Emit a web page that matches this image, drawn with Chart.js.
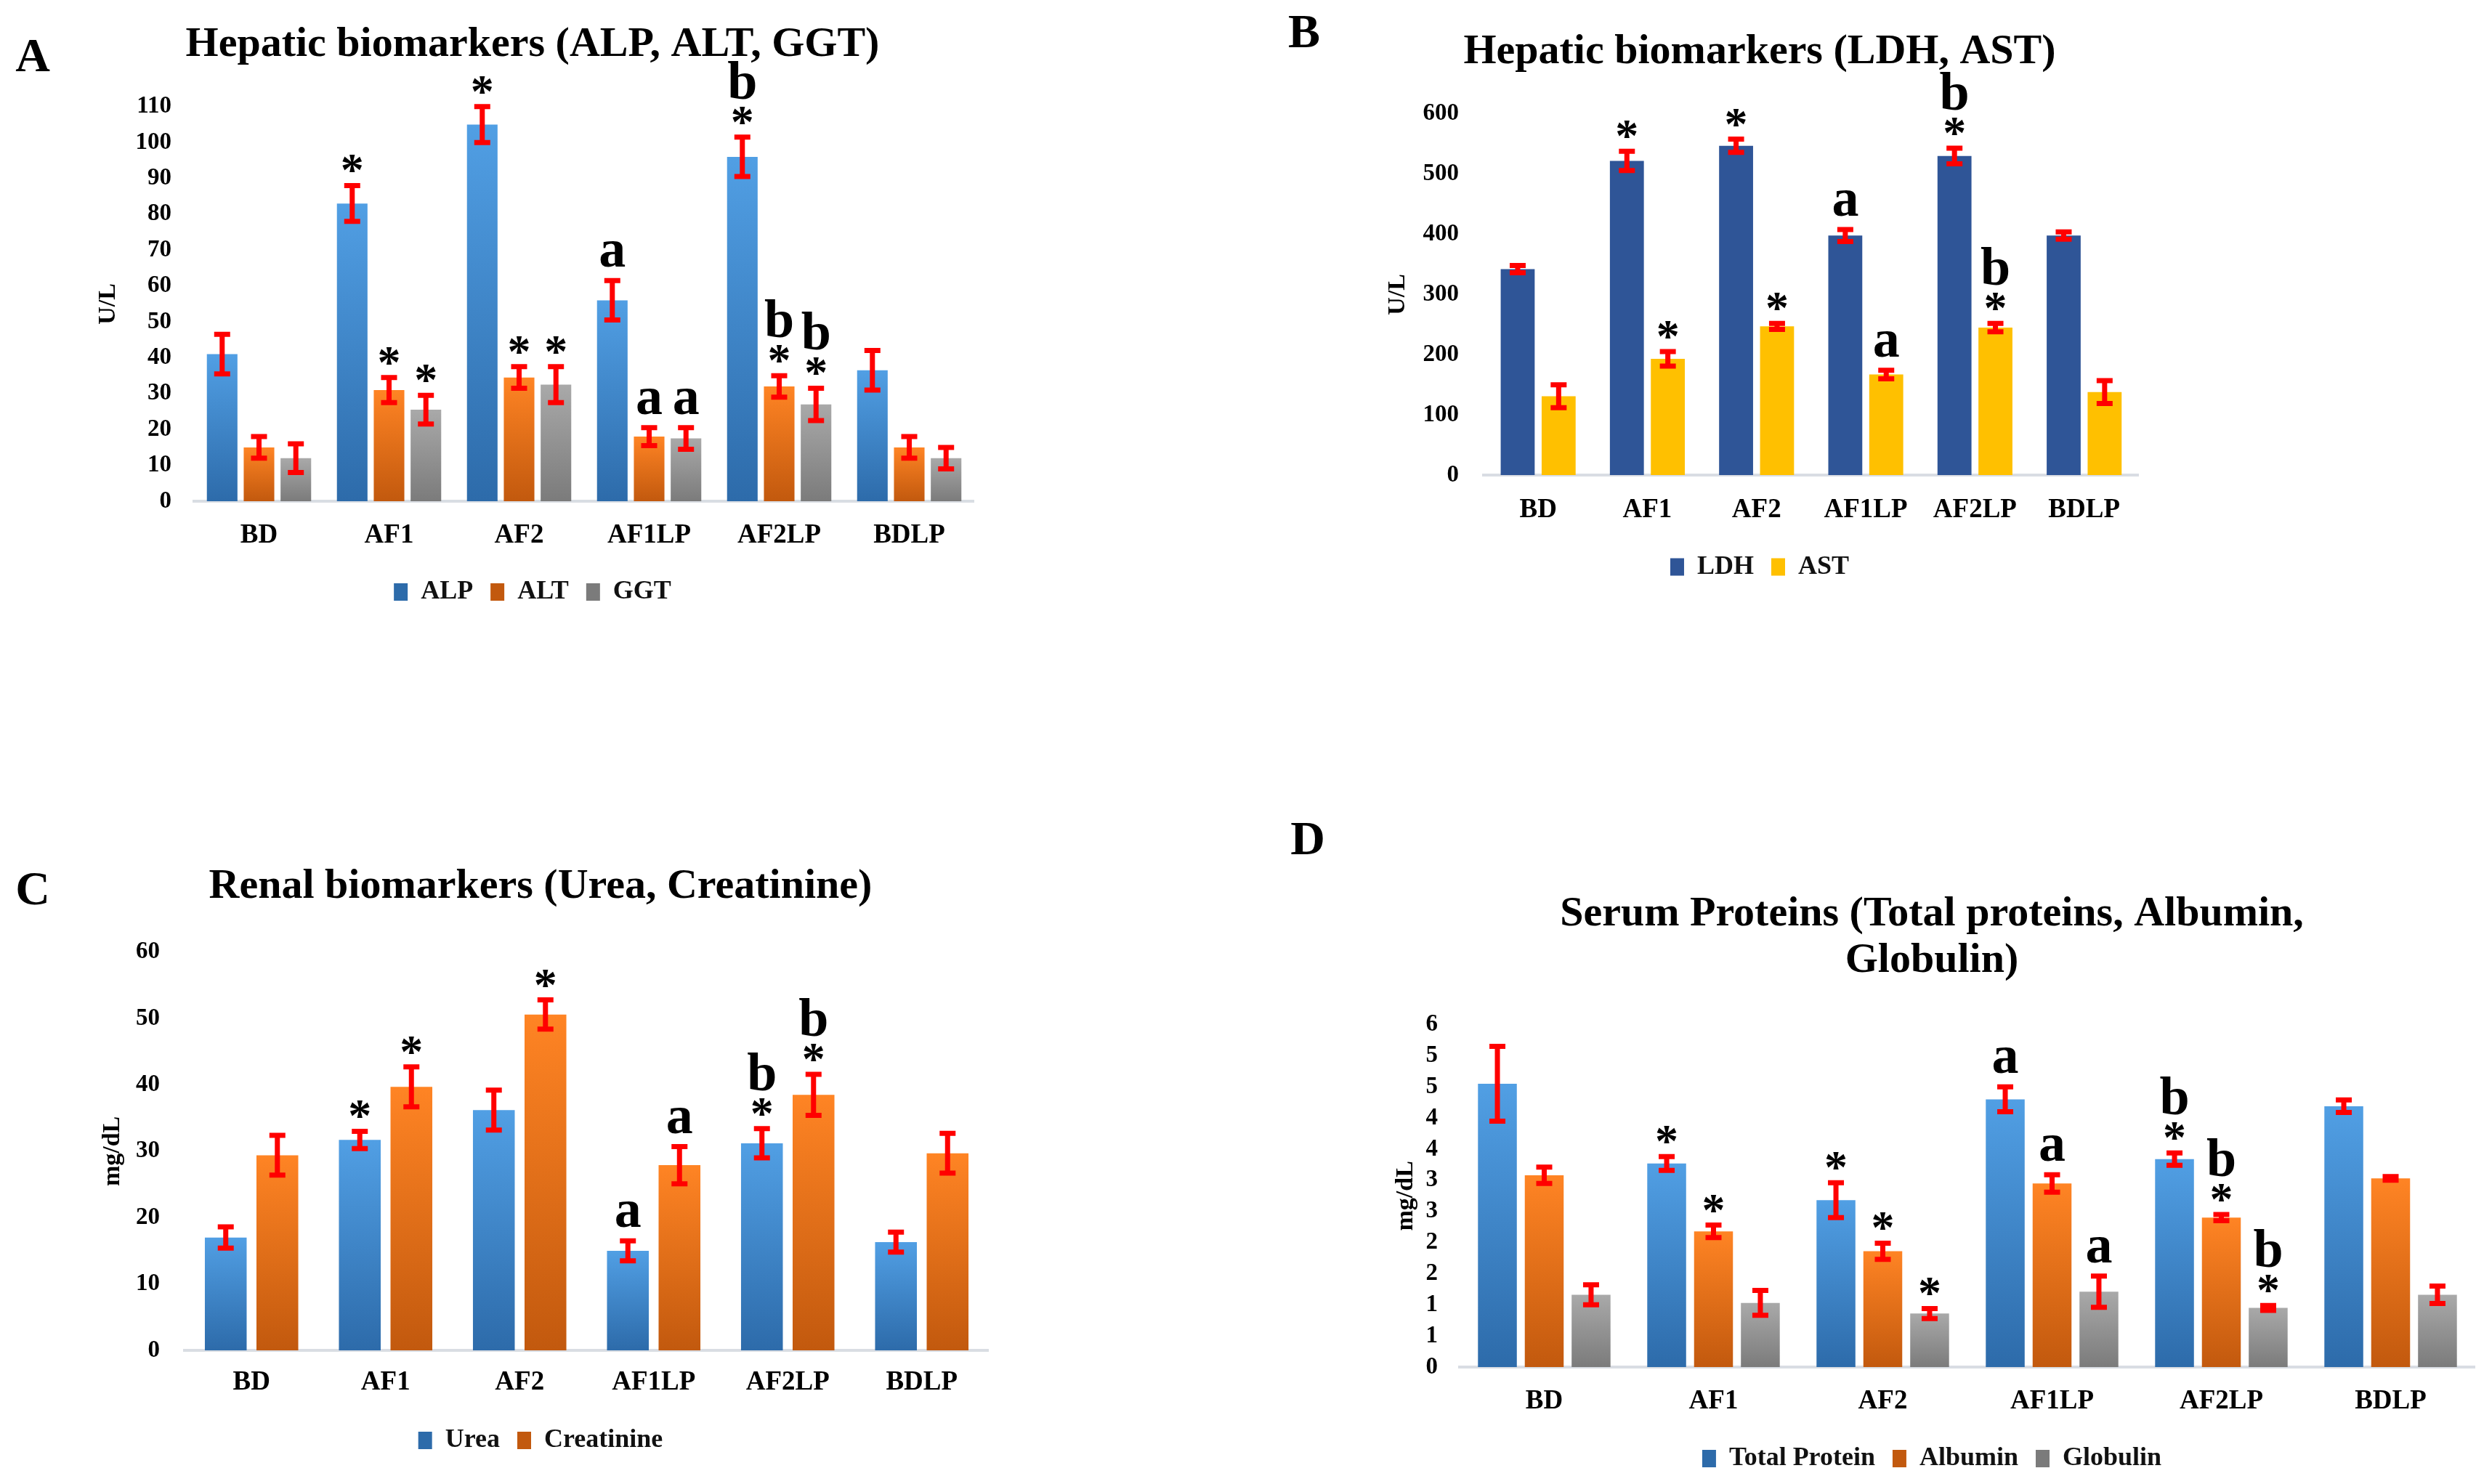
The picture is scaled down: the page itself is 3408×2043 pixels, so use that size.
<!DOCTYPE html>
<html>
<head>
<meta charset="utf-8">
<title>Biomarkers</title>
<script src="https://cdn.jsdelivr.net/npm/chart.js@4.4.1/dist/chart.umd.min.js"></script>
<style>
  html, body { margin: 0; padding: 0; background: #fff; }
  body { width: 3408px; height: 2043px; position: relative; overflow: hidden; }
  canvas { position: absolute; }
  .panel-letter {
    position: absolute;
    font: bold 66px "Liberation Serif", "Times New Roman", serif;
    color: #000;
    line-height: 1;
    transform: translate(-50%, -50%);
  }
</style>
</head>
<body>
<div class="panel-letter" style="left:45px;top:76px">A</div>
<div class="panel-letter" style="left:1795px;top:43px">B</div>
<div class="panel-letter" style="left:45px;top:1223px">C</div>
<div class="panel-letter" style="left:1800px;top:1154px">D</div>

<canvas id="chartA" width="1341" height="900" style="left:0px;top:0px;width:1341px;height:900px"></canvas>
<canvas id="chartB" width="1244" height="900" style="left:1700px;top:0px;width:1244px;height:900px"></canvas>
<canvas id="chartC" width="1361" height="943" style="left:0px;top:1100px;width:1361px;height:943px"></canvas>
<canvas id="chartD" width="1657" height="943" style="left:1750px;top:1100px;width:1657px;height:943px"></canvas>

<script>
// ==== DATA ====
const GROUPS = ["BD", "AF1", "AF2", "AF1LP", "AF2LP", "BDLP"];

// A - ALP, ALT, GGT (U/L)
const ALP = [41, 83, 105, 56, 96, 36.5];
const ALP_SD = [5.5, 5, 5, 5.5, 5.5, 5.5];
const ALP_SIG = ["", "*", "*", "a", "b*", ""];
const ALT = [15, 31, 34.5, 18, 32, 15];
const ALT_SD = [3, 3.5, 3, 2.5, 3, 3];
const ALT_SIG = ["", "*", "*", "a", "b*", ""];
const GGT = [12, 25.5, 32.5, 17.5, 27, 12];
const GGT_SD = [4, 4, 5, 3, 4.5, 3];
const GGT_SIG = ["", "*", "*", "a", "b*", ""];

// B - LDH, AST (U/L)
const LDH = [342, 522, 547, 398, 530, 398];
const LDH_SD = [6, 16, 11, 10, 13, 6];
const LDH_SIG = ["", "*", "*", "a", "b*", ""];
const AST = [131, 193, 247, 167, 245, 138];
const AST_SD = [19, 12, 5, 7, 7, 19];
const AST_SIG = ["", "*", "*", "a", "b*", ""];

// C - Urea, Creatinine (mg/dL)
const UREA = [17, 31.7, 36.2, 15, 31.2, 16.3];
const UREA_SD = [1.6, 1.3, 3, 1.5, 2.2, 1.5];
const UREA_SIG = ["", "*", "", "a", "b*", ""];
const CREAT = [29.4, 39.7, 50.6, 27.9, 38.5, 29.7];
const CREAT_SD = [3, 3, 2.2, 2.8, 3.1, 3];
const CREAT_SIG = ["", "*", "*", "a", "b*", ""];

// D - Total protein, Albumin, Globulin (mg/dL)
const TOTAL_PROTEIN = [4.55, 3.27, 2.68, 4.3, 3.34, 4.19];
const TOTAL_PROTEIN_SD = [0.6, 0.11, 0.28, 0.2, 0.1, 0.1];
const TOTAL_PROTEIN_SIG = ["", "*", "*", "a", "b*", ""];
const ALBUMIN = [3.08, 2.18, 1.86, 2.95, 2.4, 3.03];
const ALBUMIN_SD = [0.13, 0.1, 0.13, 0.14, 0.05, 0.03];
const ALBUMIN_SIG = ["", "*", "*", "a", "b*", ""];
const GLOBULIN = [1.16, 1.03, 0.86, 1.21, 0.95, 1.16];
const GLOBULIN_SD = [0.16, 0.2, 0.08, 0.25, 0.04, 0.14];
const GLOBULIN_SIG = ["", "", "*", "a", "b*", ""];

// Excel rounded the 0.5 steps to whole numbers
const D_TICK_LABELS = ["0", "1", "1", "2", "2", "3", "3", "4", "4", "5", "5", "6"];

// ==== STYLE ====
const SERIF = '"Liberation Serif", "Times New Roman", serif';
Chart.defaults.font.family = SERIF;
Chart.defaults.font.weight = "bold";
Chart.defaults.color = "#000";

function gradient(top, bottom, mid) {
  return function (context) {
    const chart = context.chart;
    if (!chart.chartArea || context.raw == null) return mid;
    const y = chart.scales.y;
    const g = chart.ctx.createLinearGradient(0, y.getPixelForValue(context.raw), 0, y.getPixelForValue(0));
    g.addColorStop(0, top);
    g.addColorStop(1, bottom);
    return g;
  };
}

const BLUE = gradient("#519fe4", "#2d6baa", "#3b84cc");
const ORANGE = gradient("#ff8424", "#c2590e", "#ea6d16");
const GRAY = gradient("#a9a9a9", "#7b7b7b", "#939393");

// ==== ERROR BARS + SIGNIFICANCE MARKS ====
const errorBarPlugin = {
  id: "errorBars",
  afterDatasetsDraw(chart) {
    const ctx = chart.ctx;
    const yScale = chart.scales.y;
    chart.data.datasets.forEach((ds, i) => {
      const meta = chart.getDatasetMeta(i);
      meta.data.forEach((bar, j) => {
        const v = ds.data[j];
        const sd = ds.errors[j];
        const yTop = yScale.getPixelForValue(v + sd);
        const yBot = yScale.getPixelForValue(v - sd);
        ctx.save();
        ctx.strokeStyle = "#ff0000";
        ctx.lineWidth = 7;
        ctx.beginPath();
        ctx.moveTo(bar.x, yTop);
        ctx.lineTo(bar.x, yBot);
        ctx.moveTo(bar.x - 11, yTop);
        ctx.lineTo(bar.x + 11, yTop);
        ctx.moveTo(bar.x - 11, yBot);
        ctx.lineTo(bar.x + 11, yBot);
        ctx.stroke();

        // stack the marks upward, the last char sits right above the bar
        let base = yTop - 4 - 14;
        const chars = ds.marks[j].split("").reverse();
        ctx.fillStyle = "#000";
        ctx.textAlign = "center";
        ctx.textBaseline = "alphabetic";
        chars.forEach((ch) => {
          const size = ch === "*" ? 64 : 74;
          ctx.font = "bold " + size + "px " + SERIF;
          const m = ctx.measureText(ch);
          const baseline = base - m.actualBoundingBoxDescent;
          ctx.fillText(ch, bar.x, baseline);
          base = baseline - m.actualBoundingBoxAscent - 10;
        });
        ctx.restore();
      });
    });
  },
};

// ==== CHART BUILDER ====
function buildChart(id, p) {
  return new Chart(document.getElementById(id), {
    type: "bar",
    data: {
      labels: GROUPS,
      datasets: p.datasets.map((d) => ({
        label: d.label,
        data: d.data,
        errors: d.errors,
        marks: d.marks,
        backgroundColor: d.color,
        borderWidth: 0,
        categoryPercentage: p.cp,
        barPercentage: p.bp,
      })),
    },
    options: {
      responsive: false,
      animation: false,
      devicePixelRatio: 1,
      layout: { padding: p.padding },
      plugins: {
        title: {
          display: true,
          text: p.title,
          font: { size: 58, weight: "bold", lineHeight: 1.1 },
          color: "#000",
          padding: p.titlePad,
        },
        legend: {
          display: true,
          position: "bottom",
          labels: {
            boxWidth: 19,
            boxHeight: 24,
            padding: 24,
            font: { size: 36, weight: "bold" },
            color: "#111",
          },
        },
        tooltip: { enabled: false },
      },
      scales: {
        x: {
          grid: { display: false, drawTicks: false },
          border: { display: true, color: "#d9dde3", width: 4 },
          ticks: { padding: p.xTickPad, font: { size: 37, weight: "bold" }, color: "#000" },
          afterFit: (scale) => { scale.height = p.xHeight; },
        },
        y: {
          min: 0,
          max: p.yMax,
          grid: { display: false, drawTicks: false },
          border: { display: false },
          ticks: {
            stepSize: p.yStep,
            padding: p.yTickPad,
            font: { size: 33, weight: "bold" },
            color: "#000",
            callback: p.yLabels ? (v, i) => p.yLabels[i] : (v) => v,
          },
          title: {
            display: true,
            text: p.yTitle,
            font: { size: 34, weight: "bold" },
            color: "#000",
            padding: { top: p.yTitlePad, bottom: 0 },
          },
          afterFit: (scale) => { scale.width = p.yWidth; },
        },
      },
    },
    plugins: [errorBarPlugin],
  });
}

// ==== PANEL A ====
buildChart("chartA", {
  title: "Hepatic biomarkers (ALP, ALT, GGT)",
  yTitle: "U/L", yMax: 110, yStep: 10,
  padding: { left: 125, top: 0, right: 0, bottom: 57 },
  titlePad: { top: 30, bottom: 53 },
  yWidth: 142, yTickPad: 31, yTitlePad: 4,
  xHeight: 83, xTickPad: 25,
  cp: 0.85, bp: 0.83,
  datasets: [
    { label: "ALP", data: ALP, errors: ALP_SD, marks: ALP_SIG, color: BLUE },
    { label: "ALT", data: ALT, errors: ALT_SD, marks: ALT_SIG, color: ORANGE },
    { label: "GGT", data: GGT, errors: GGT_SD, marks: GGT_SIG, color: GRAY },
  ],
});

// ==== PANEL B ====
buildChart("chartB", {
  title: "Hepatic biomarkers (LDH, AST)",
  yTitle: "U/L", yMax: 600, yStep: 100,
  padding: { left: 200, top: 0, right: 0, bottom: 91.5 },
  titlePad: { top: 40, bottom: 53 },
  yWidth: 142, yTickPad: 34, yTitlePad: 4,
  xHeight: 84.5, xTickPad: 26,
  cp: 0.75, bp: 0.83,
  datasets: [
    { label: "LDH", data: LDH, errors: LDH_SD, marks: LDH_SIG, color: "#2f5597" },
    { label: "AST", data: AST, errors: AST_SD, marks: AST_SIG, color: "#ffc000" },
  ],
});

// ==== PANEL C ====
buildChart("chartC", {
  title: "Renal biomarkers (Urea, Creatinine)",
  yTitle: "mg/dL", yMax: 60, yStep: 10,
  padding: { left: 127, top: 0, right: 0, bottom: 32 },
  titlePad: { top: 89, bottom: 58 },
  yWidth: 127, yTickPad: 34, yTitlePad: 8,
  xHeight: 82, xTickPad: 22,
  cp: 0.77, bp: 0.81,
  datasets: [
    { label: "Urea", data: UREA, errors: UREA_SD, marks: UREA_SIG, color: BLUE },
    { label: "Creatinine", data: CREAT, errors: CREAT_SD, marks: CREAT_SIG, color: ORANGE },
  ],
});

// ==== PANEL D ====
buildChart("chartD", {
  title: ["Serum Proteins (Total proteins, Albumin,", "Globulin)"],
  yTitle: "mg/dL", yMax: 5.5, yStep: 0.5, yLabels: D_TICK_LABELS,
  padding: { left: 161, top: 0, right: 0, bottom: 7 },
  titlePad: { top: 127, bottom: 56 },
  yWidth: 98, yTickPad: 30, yTitlePad: 4,
  xHeight: 84, xTickPad: 25,
  cp: 0.83, bp: 0.83,
  datasets: [
    { label: "Total Protein", data: TOTAL_PROTEIN, errors: TOTAL_PROTEIN_SD, marks: TOTAL_PROTEIN_SIG, color: BLUE },
    { label: "Albumin", data: ALBUMIN, errors: ALBUMIN_SD, marks: ALBUMIN_SIG, color: ORANGE },
    { label: "Globulin", data: GLOBULIN, errors: GLOBULIN_SD, marks: GLOBULIN_SIG, color: GRAY },
  ],
});
</script>
</body>
</html>
